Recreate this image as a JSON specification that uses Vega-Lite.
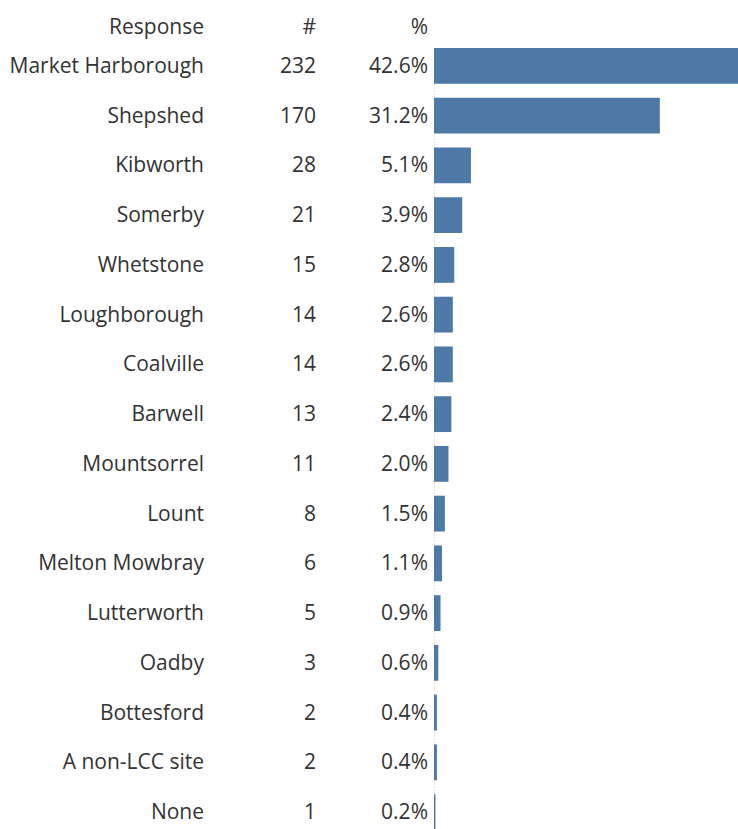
{
  "$schema": "https://vega.github.io/schema/vega-lite/v6.json",
  "padding": {"left": 0, "top": 17, "right": 0, "bottom": 0},
  "background": "white",
  "spacing": 0,
  "config": {
    "view": {"stroke": null},
    "font": "Open Sans",
    "title": {"fontSize": 21, "fontWeight": "normal", "color": "#333333", "font": "Open Sans", "anchor": "end", "offset": 10, "dx": -6}
  },
  "data": {
    "values": [
      {"Response": "Market Harborough", "n": 232, "pct": 0.426},
      {"Response": "Shepshed", "n": 170, "pct": 0.312},
      {"Response": "Kibworth", "n": 28, "pct": 0.051},
      {"Response": "Somerby", "n": 21, "pct": 0.039},
      {"Response": "Whetstone", "n": 15, "pct": 0.028},
      {"Response": "Loughborough", "n": 14, "pct": 0.026},
      {"Response": "Coalville", "n": 14, "pct": 0.026},
      {"Response": "Barwell", "n": 13, "pct": 0.024},
      {"Response": "Mountsorrel", "n": 11, "pct": 0.020},
      {"Response": "Lount", "n": 8, "pct": 0.015},
      {"Response": "Melton Mowbray", "n": 6, "pct": 0.011},
      {"Response": "Lutterworth", "n": 5, "pct": 0.009},
      {"Response": "Oadby", "n": 3, "pct": 0.006},
      {"Response": "Bottesford", "n": 2, "pct": 0.004},
      {"Response": "A non-LCC site", "n": 2, "pct": 0.004},
      {"Response": "None", "n": 1, "pct": 0.002}
    ]
  },
  "hconcat": [
    {
      "width": 210, "height": 782,
      "title": {"text": "Response", "fontSize": 21},
      "mark": {"type": "text", "align": "right", "dx": -6, "dy": 1, "fontSize": 21, "color": "#333333"},
      "encoding": {
        "y": {"field": "Response", "type": "nominal", "sort": null, "axis": null, "scale": {"type": "band", "paddingInner": 0.28, "paddingOuter": 0}},
        "x": {"value": "width"},
        "text": {"field": "Response"}
      }
    },
    {
      "width": 112, "height": 782,
      "title": {"text": "#", "fontSize": 21},
      "mark": {"type": "text", "align": "right", "dx": -6, "dy": 1, "fontSize": 21, "color": "#333333"},
      "encoding": {
        "y": {"field": "Response", "type": "nominal", "sort": null, "axis": null, "scale": {"type": "band", "paddingInner": 0.28, "paddingOuter": 0}},
        "x": {"value": "width"},
        "text": {"field": "n", "type": "quantitative", "format": "d"}
      }
    },
    {
      "width": 112, "height": 782,
      "title": {"text": "%", "fontSize": 21},
      "mark": {"type": "text", "align": "right", "dx": -6, "dy": 1, "fontSize": 21, "color": "#333333"},
      "encoding": {
        "y": {"field": "Response", "type": "nominal", "sort": null, "axis": null, "scale": {"type": "band", "paddingInner": 0.28, "paddingOuter": 0}},
        "x": {"value": "width"},
        "text": {"field": "pct", "type": "quantitative", "format": ".1%"}
      }
    },
    {
      "width": 304, "height": 782,
      "title": {"text": " ", "fontSize": 21},
      "mark": {"type": "bar", "color": "#4e79a7", "clip": true},
      "encoding": {
        "y": {"field": "Response", "type": "nominal", "sort": null, "scale": {"type": "band", "paddingInner": 0.28, "paddingOuter": 0},
              "axis": {"labels": false, "ticks": false, "title": null, "domainColor": "#cccccc", "domainDash": [1, 2]}},
        "x": {"field": "pct", "type": "quantitative", "scale": {"domain": [0, 0.42], "nice": false}, "axis": null}
      }
    }
  ]
}
